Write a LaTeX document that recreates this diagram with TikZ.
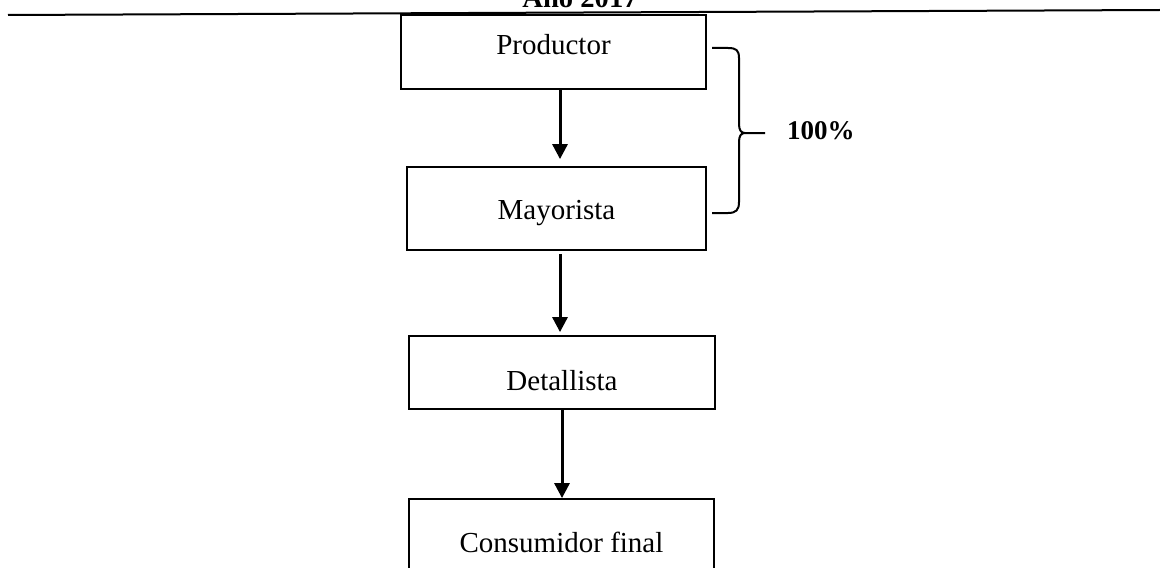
\documentclass[tikz,border=0pt]{standalone}
\usepackage{fontspec}
\setmainfont{Liberation Serif}
\usetikzlibrary{arrows.meta, positioning}

\tikzset{
    caja/.style={draw, line width=0.9pt, minimum width=152.5pt, minimum height=37pt,
        inner sep=0pt, font=\fontsize{14.5}{17}\selectfont},
    flecha/.style={line width=1.5pt, -{Triangle[width=7.5pt,length=7.5pt]}},
    llave/.style={line width=1pt},
}

\begin{document}
\begin{tikzpicture}[x=0.5pt,y=-0.5pt]
\useasboundingbox (0,0) rectangle (1160,567);
\clip (0,0) rectangle (1160,567);

% titulo cortado y linea
\node[anchor=base, font=\bfseries\fontsize{14.3}{17}\selectfont] (anio) at (580,8) {Año 2017};
\draw[line width=1pt] (8,15) -- (1160,10);

% cajas
\node[caja, text height=6pt, text depth=3pt] (prod) at (553.5,52) {Productor};
\node[caja, minimum width=149.5pt, minimum height=41.5pt, text height=13.5pt, text depth=3pt] (may) at (556.5,208.5) {Mayorista};
\node[caja, minimum width=153pt, minimum height=36.5pt, text height=20pt, text depth=2.5pt] (det) at (562,372.5) {Detallista};
\node[caja, minimum height=38pt, text height=18pt, text depth=3pt] (cons) at (561.5,537) {Consumidor final};

\draw[flecha] ([xshift=3.25pt]prod.south) -- ([xshift=1.75pt,yshift=3.5pt]may.north);
\draw[flecha] ([xshift=1.75pt,yshift=-1.5pt]may.south) -- ([xshift=-1pt,yshift=1.5pt]det.north);
\draw[flecha] (det.south) -- (det.south |- cons.north);

% llave 100%
\node[anchor=base west, font=\bfseries\fontsize{13.5}{16}\selectfont] (pct) at (780,139) {100\%};
\coordinate (punta) at (765,133);
\draw[llave] (712,48) -- (728,48) .. controls (736,48) and (739,50) .. (739,58) -- (739,124)
    .. controls (739,130) and (741,133) .. (745,133) -- (punta);
\draw[llave] (745,133) .. controls (741,133) and (739,136) .. (739,142) -- (739,202)
    .. controls (739,210) and (736,213) .. (728,213) -- (712,213);

\end{tikzpicture}
\end{document}
